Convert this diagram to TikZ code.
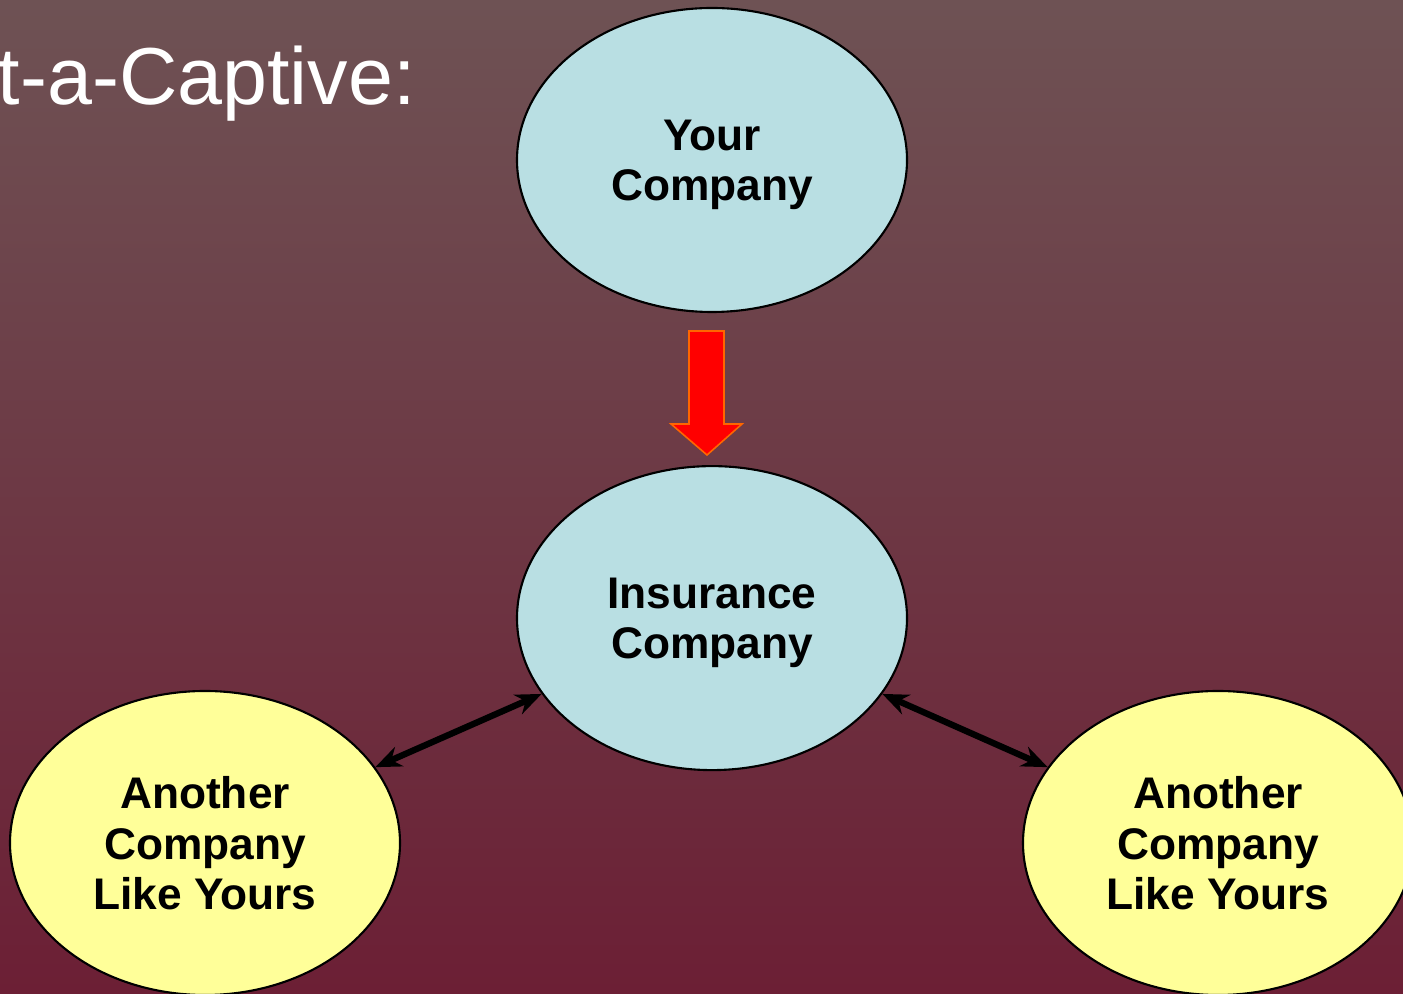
\documentclass[tikz,border=0pt]{standalone}
\usepackage{fontspec}
\setmainfont{Liberation Sans}
\usetikzlibrary{positioning,shapes,arrows.meta}
\definecolor{bgtop}{RGB}{110,82,84}
\definecolor{bgbottom}{RGB}{108,31,53}
\definecolor{capblue}{RGB}{185,223,227}
\definecolor{likeyellow}{RGB}{255,255,153}
\definecolor{arroworange}{RGB}{255,102,0}

\begin{document}
\begin{tikzpicture}[
	mynode/.style={draw,ellipse,line width=0.6pt,minimum width=3.9cm,minimum height=3.04cm,align=center,text depth=0pt,font=\fontsize{12.6}{14.3}\selectfont\bfseries},
	bluenode/.style={mynode,fill=capblue},
	yellownode/.style={mynode,fill=likeyellow},
	link/.style={{Stealth[length=0.26cm,width=0.21cm]}-{Stealth[length=0.26cm,width=0.21cm]},line width=1.8pt}
	]
	\useasboundingbox (0,0) rectangle (14.03,9.93);
	\shade[top color=bgtop,bottom color=bgbottom] (0,0) rectangle (14.03,9.93);
	\clip (0,0) rectangle (14.03,9.93);
	\node[anchor=base east,text=white,font=\fontsize{23}{26}\selectfont] (title) at (4.28,8.88) {t-a-Captive:};
	\node[bluenode] (you) at (7.12,8.33) {Your\\Company};
	\node[bluenode,below=1.52cm of you] (insurance) {Insurance\\Company};
	\node[yellownode] (another1) at (2.05,1.50) {Another\\Company\\Like Yours};
	\node[yellownode] (another2) at (12.18,1.50) {Another\\Company\\Like Yours};
	% red block arrow
	\draw[draw=arroworange,fill=red,line width=0.45pt] (6.89,6.62) -- (7.24,6.62) -- (7.24,5.69) -- (7.42,5.69) -- (7.07,5.38) -- (6.71,5.69) -- (6.89,5.69) -- cycle;
	\path[link]
	(another1.24) edge (insurance.204)
	(insurance.336) edge (another2.156);
\end{tikzpicture}
\end{document}
